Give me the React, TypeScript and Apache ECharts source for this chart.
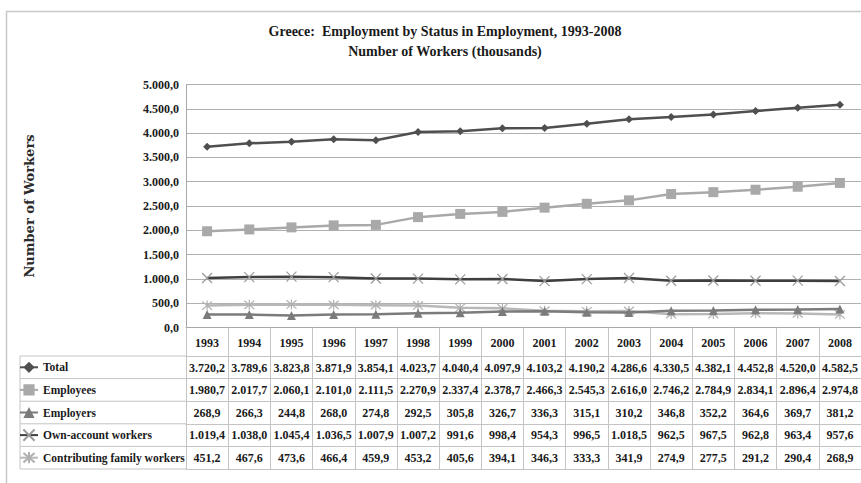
import React, { useEffect, useRef } from 'react';
import * as echarts from 'echarts';

const years = ['1993', '1994', '1995', '1996', '1997', '1998', '1999', '2000', '2001', '2002', '2003', '2004', '2005', '2006', '2007', '2008'];
const total = [3720.2, 3789.6, 3823.8, 3871.9, 3854.1, 4023.7, 4040.4, 4097.9, 4103.2, 4190.2, 4286.6, 4330.5, 4382.1, 4452.8, 4520.0, 4582.5];
const employees = [1980.7, 2017.7, 2060.1, 2101.0, 2111.5, 2270.9, 2337.4, 2378.7, 2466.3, 2545.3, 2616.0, 2746.2, 2784.9, 2834.1, 2896.4, 2974.8];
const employers = [268.9, 266.3, 244.8, 268.0, 274.8, 292.5, 305.8, 326.7, 336.3, 315.1, 310.2, 346.8, 352.2, 364.6, 369.7, 381.2];
const ownAccount = [1019.4, 1038.0, 1045.4, 1036.5, 1007.9, 1007.2, 991.6, 998.4, 954.3, 996.5, 1018.5, 962.5, 967.5, 962.8, 963.4, 957.6];
const contributing = [451.2, 467.6, 473.6, 466.4, 459.9, 453.2, 405.6, 394.1, 346.3, 333.3, 341.9, 274.9, 277.5, 291.2, 290.4, 268.9];
const seriesNames = ['Total', 'Employees', 'Employers', 'Own-account workers', 'Contributing family workers'];
const seriesValues = [total, employees, employers, ownAccount, contributing];
const yMin = 0;
const yMax = 5000;
const yInterval = 500;

const titleText = 'Greece:  Employment by Status in Employment, 1993-2008';
const subtitleText = 'Number of Workers (thousands)';
const yAxisName = 'Number of Workers';

function fmt(v: number): string {
  const [i, d] = v.toFixed(1).split('.');
  return i.replace(/\B(?=(\d{3})+(?!\d))/g, '.') + ',' + d;
}

const SERIF = 'Liberation Serif, serif';
const W = 861;
const H = 483;
const GRID_LEFT = 186;
const GRID_TOP = 84.5;
const GRID_BOTTOM_Y = 327.5;
const ROW0 = 356;
const ROW_H = 22.6;
const TABLE_LEFT = 20;
const TABLE_LINE = '#c4c4c4';

const xMark = 'path://M0,0L10,10M10,0L0,10';
const starMark = 'path://M0,0L10,10M10,0L0,10M5,-1L5,11';

const lineColors = ['#4f4f4f', '#a9a9a9', '#7b7b7b', '#3f3f3f', '#b8b8b8'];
const markerColors = ['#4f4f4f', '#a9a9a9', '#7b7b7b', '#9a9a9a', '#b0b0b0'];
const symbols = ['diamond', 'rect', 'triangle', xMark, starMark];
const symbolSizes = [8, 10, 9, 10, 10];

export default function App() {
  const ref = useRef<HTMLDivElement>(null);

  useEffect(() => {
    if (!ref.current) return;
    const chart = echarts.init(ref.current, null, { renderer: 'svg' });

    const tableAxes = seriesValues.map((vals, k) => ({
      type: 'category',
      gridIndex: 0,
      position: 'bottom',
      offset: ROW0 - GRID_BOTTOM_Y + k * ROW_H,
      data: years,
      boundaryGap: true,
      axisLine: { show: true, lineStyle: { color: TABLE_LINE, width: 1 } },
      axisTick: { show: true, length: ROW_H, interval: 0, lineStyle: { color: TABLE_LINE, width: 1 } },
      axisLabel: {
        interval: 0,
        margin: 4.5,
        fontFamily: SERIF,
        fontWeight: 'bold',
        fontSize: 12,
        lineHeight: 14,
        color: '#1a1a1a',
        formatter: (_v: string, idx: number) => fmt(vals[idx]),
      },
      splitLine: { show: false },
    }));

    const closingAxis = {
      type: 'category',
      gridIndex: 0,
      position: 'bottom',
      offset: ROW0 - GRID_BOTTOM_Y + seriesValues.length * ROW_H,
      data: years,
      axisLine: { show: true, lineStyle: { color: TABLE_LINE, width: 1 } },
      axisTick: { show: false },
      axisLabel: { show: false },
    };

    const graphicEls: any[] = [
      {
        type: 'rect',
        silent: true,
        z: -10,
        shape: { x: 6.5, y: 11.5, width: 900, height: 520 },
        style: { fill: 'none', stroke: '#c8c8c8', lineWidth: 1.5 },
      },
      {
        type: 'line',
        silent: true,
        shape: { x1: TABLE_LEFT, y1: ROW0, x2: TABLE_LEFT, y2: ROW0 + seriesValues.length * ROW_H },
        style: { stroke: TABLE_LINE, lineWidth: 1 },
      },
    ];
    for (let k = 0; k <= seriesValues.length; k++) {
      const y = ROW0 + k * ROW_H;
      graphicEls.push({
        type: 'line',
        silent: true,
        shape: { x1: TABLE_LEFT, y1: y, x2: GRID_LEFT, y2: y },
        style: { stroke: TABLE_LINE, lineWidth: 1 },
      });
    }

    chart.setOption({
      animation: false,
      backgroundColor: '#ffffff',
      title: {
        text: titleText + '\n' + subtitleText,
        left: 440,
        top: 16,
        textAlign: 'center',
        textStyle: {
          fontFamily: SERIF,
          fontWeight: 'bold',
          fontSize: 14,
          lineHeight: 20,
          color: '#1a1a1a',
        },
      },
      legend: {
        orient: 'vertical',
        left: TABLE_LEFT - 1,
        top: ROW0 + ROW_H / 2 - 7,
        padding: 0,
        itemWidth: 18,
        itemHeight: 14,
        itemGap: ROW_H - 14,
        selectedMode: false,
        data: seriesNames,
        textStyle: {
          fontFamily: SERIF,
          fontWeight: 'bold',
          fontSize: 11.5,
          lineHeight: 14,
          color: '#1a1a1a',
        },
      },
      grid: {
        left: GRID_LEFT,
        right: 0,
        top: GRID_TOP,
        bottom: H - GRID_BOTTOM_Y,
        containLabel: false,
      },
      xAxis: [
        {
          type: 'category',
          gridIndex: 0,
          position: 'bottom',
          data: years,
          boundaryGap: true,
          axisLine: { show: true, lineStyle: { color: '#a8a8a8', width: 1 } },
          axisTick: { show: true, length: ROW0 - GRID_BOTTOM_Y, interval: 0, lineStyle: { color: TABLE_LINE, width: 1 } },
          axisLabel: {
            interval: 0,
            margin: 8,
            fontFamily: SERIF,
            fontWeight: 'bold',
            fontSize: 12,
            lineHeight: 14,
            color: '#1a1a1a',
          },
        },
        ...tableAxes,
        closingAxis,
      ],
      yAxis: {
        type: 'value',
        min: yMin,
        max: yMax,
        interval: yInterval,
        name: yAxisName,
        nameLocation: 'middle',
        nameGap: 150,
        nameTextStyle: {
          fontFamily: 'DejaVu Serif',
          fontWeight: 'bold',
          fontSize: 13,
          color: '#2a2a2a',
        },
        axisLine: { show: true, lineStyle: { color: '#a8a8a8', width: 1 } },
        axisTick: { show: false },
        axisLabel: {
          margin: 7,
          fontFamily: SERIF,
          fontWeight: 'bold',
          fontSize: 12,
          color: '#1a1a1a',
          formatter: (v: number) => fmt(v),
        },
        splitLine: { show: true, lineStyle: { color: '#b0b0b0', width: 1 } },
      },
      series: seriesValues.map((vals, i) => ({
        name: seriesNames[i],
        type: 'line',
        xAxisIndex: 0,
        yAxisIndex: 0,
        data: vals,
        symbol: symbols[i],
        symbolSize: symbolSizes[i],
        showSymbol: true,
        lineStyle: { color: lineColors[i], width: 2.5 },
        itemStyle: {
          color: markerColors[i],
          borderColor: markerColors[i],
          borderWidth: i >= 3 ? 1.2 : 0,
        },
        z: 5 - i,
      })),
      graphic: graphicEls,
    });

    return () => {
      chart.dispose();
    };
  }, []);

  return (
    <div
      ref={ref}
      style={{ position: 'fixed', left: 0, top: 0, width: W, height: H, background: '#fff' }}
    />
  );
}
